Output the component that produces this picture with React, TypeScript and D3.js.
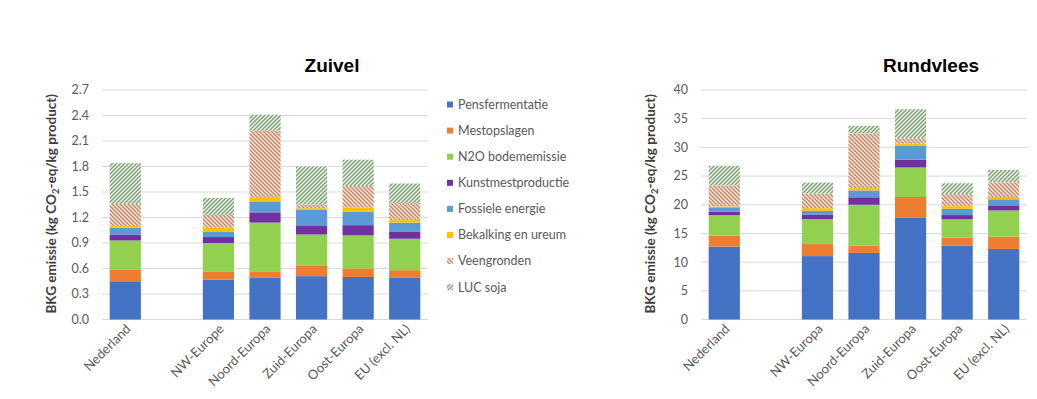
import React from "react";
import * as d3 from "d3";

const seriesNames = [
  "Pensfermentatie",
  "Mestopslagen",
  "N2O bodememissie",
  "Kunstmestproductie",
  "Fossiele energie",
  "Bekalking en ureum",
  "Veengronden",
  "LUC soja",
];
const seriesFills = [
  "#4472C4",
  "#ED7D31",
  "#92D050",
  "#7030A0",
  "#5B9BD5",
  "#FFC000",
  "url(#veen)",
  "url(#luc)",
];

const zuivelCategories = ["Nederland", "", "NW-Europe", "Noord-Europa", "Zuid-Europa", "Oost-Europa", "EU (excl. NL)"];
const rundCategories = ["Nederland", "", "NW-Europa", "Noord-Europa", "Zuid-Europa", "Oost-Europa", "EU (excl. NL)"];

// Zuivel (kg CO2-eq / kg product)
const zuivelPens = [0.45, 0, 0.47, 0.49, 0.51, 0.5, 0.49];
const zuivelMest = [0.14, 0, 0.09, 0.07, 0.12, 0.1, 0.09];
const zuivelN2O = [0.34, 0, 0.34, 0.58, 0.37, 0.39, 0.37];
const zuivelKunst = [0.07, 0, 0.07, 0.12, 0.1, 0.12, 0.08];
const zuivelFoss = [0.08, 0, 0.06, 0.13, 0.19, 0.16, 0.11];
const zuivelBek = [0.02, 0, 0.05, 0.05, 0.02, 0.05, 0.03];
const zuivelVeen = [0.26, 0, 0.15, 0.78, 0.04, 0.25, 0.2];
const zuivelLuc = [0.48, 0, 0.2, 0.19, 0.45, 0.31, 0.23];

// Rundvlees
const rundPens = [12.7, 0, 11.05, 11.6, 17.8, 12.85, 12.3];
const rundMest = [1.9, 0, 2.1, 1.3, 3.55, 1.45, 2.15];
const rundN2O = [3.6, 0, 4.35, 7.1, 5.15, 3.15, 4.55];
const rundKunst = [0.6, 0, 0.8, 1.3, 1.35, 0.75, 0.9];
const rundFoss = [0.75, 0, 0.65, 1.2, 2.4, 1.1, 1.05];
const rundBek = [0.15, 0, 0.45, 0.4, 0.4, 0.45, 0.4];
const rundVeen = [3.7, 0, 2.55, 9.55, 0.95, 2.1, 2.55];
const rundLuc = [3.4, 0, 1.9, 1.3, 5.05, 1.9, 2.2];

const zuivelTicks = [0, 0.3, 0.6, 0.9, 1.2, 1.5, 1.8, 2.1, 2.4, 2.7];
const rundTicks = [0, 5, 10, 15, 20, 25, 30, 35, 40];

const font = "Lato, 'Open Sans', sans-serif";
const gray = "#595959";

type ChartProps = {
  left: number;
  title: string;
  categories: string[];
  series: number[][];
  ticks: number[];
  fmt: (v: number) => string;
};

function Chart({ left, title, categories, series, ticks, fmt }: ChartProps) {
  const plotW = 326;
  const top = 90;
  const bottom = 319.5;
  const x = d3
    .scaleBand<number>()
    .domain(categories.map((_, i) => i))
    .range([left, left + plotW])
    .paddingInner(0.33)
    .paddingOuter(0.165);
  const y = d3.scaleLinear().domain([0, ticks[ticks.length - 1]]).range([bottom, top]);

  const rows = categories.map((c, i) => {
    const r: Record<string, number> = { idx: i };
    seriesNames.forEach((s, k) => (r[s] = series[k][i]));
    return r;
  });
  const stacked = d3.stack<Record<string, number>>().keys(seriesNames)(rows);

  return (
    <g>
      <text
        x={left + 230}
        y={71.5}
        textAnchor="middle"
        fontFamily="'Liberation Sans', Arial, sans-serif"
        fontWeight="bold"
        fontSize={19}
        fill="#000"
      >
        {title}
      </text>
      {ticks.map((t) => (
        <g key={t}>
          <line x1={left} x2={left + plotW} y1={y(t)} y2={y(t)} stroke="#D9D9D9" strokeWidth={1} />
          <text x={left - 13} y={y(t)} dy="0.35em" textAnchor="end" fontFamily={font} fontSize={12.5} fill={gray}>
            {fmt(t)}
          </text>
        </g>
      ))}
      <text
        transform={`translate(${left - 46},${(top + bottom) / 2 - 1}) rotate(-90)`}
        textAnchor="middle"
        fontFamily={font}
        fontWeight="bold"
        fontSize={13.5}
        fill="#404040"
      >
        BKG emissie (kg CO
        <tspan baselineShift="-25%" fontSize={9.5}>
          2
        </tspan>
        -eq/kg product)
      </text>
      {stacked.map((layer, k) => (
        <g key={layer.key} fill={seriesFills[k]}>
          {layer.map((d, i) =>
            d[1] - d[0] > 0 ? (
              <rect key={i} x={x(i)} width={x.bandwidth()} y={y(d[1])} height={y(d[0]) - y(d[1])} />
            ) : null
          )}
        </g>
      ))}
      {categories.map((c, i) => (
        <text
          key={i}
          transform={`translate(${(x(i) as number) + x.bandwidth() / 2 + 3},${bottom + 7}) rotate(-45)`}
          textAnchor="end"
          dy="0.35em"
          fontFamily={font}
          fontSize={13}
          fill={gray}
        >
          {c}
        </text>
      ))}
    </g>
  );
}

function Legend({ x0, y0 }: { x0: number; y0: number }) {
  return (
    <g>
      {seriesNames.map((s, k) => (
        <g key={s} transform={`translate(${x0},${y0 + k * 26.1})`}>
          <rect x={0} y={-3} width={6} height={6} fill={seriesFills[k]} />
          <text x={11} y={0} dy="0.35em" fontFamily={font} fontSize={12.5} fill={gray}>
            {s}
          </text>
        </g>
      ))}
    </g>
  );
}

export default function App() {
  const zuivelSeries = [zuivelPens, zuivelMest, zuivelN2O, zuivelKunst, zuivelFoss, zuivelBek, zuivelVeen, zuivelLuc];
  const rundSeries = [rundPens, rundMest, rundN2O, rundKunst, rundFoss, rundBek, rundVeen, rundLuc];
  return (
    <svg width={1037} height={399} style={{ position: "absolute", left: 0, top: 0, background: "#fff" }}>
      <defs>
        <pattern id="veen" patternUnits="userSpaceOnUse" width={4} height={4}>
          <rect width={4} height={4} fill="#F7E9E0" />
          <path d="M-1,-1 L5,5 M-1,3 L1,5 M3,-1 L5,1" stroke="#C98563" strokeWidth={1.4} />
        </pattern>
        <pattern id="luc" patternUnits="userSpaceOnUse" width={4} height={4}>
          <rect width={4} height={4} fill="#EEF3EC" />
          <path d="M-1,5 L5,-1 M-1,1 L1,-1 M3,5 L5,3" stroke="#7D9F74" strokeWidth={1.4} />
        </pattern>
      </defs>
      <Chart
        left={102}
        title="Zuivel"
        categories={zuivelCategories}
        series={zuivelSeries}
        ticks={zuivelTicks}
        fmt={d3.format(".1f")}
      />
      <Legend x0={447} y0={104.5} />
      <Chart
        left={701}
        title="Rundvlees"
        categories={rundCategories}
        series={rundSeries}
        ticks={rundTicks}
        fmt={d3.format("d")}
      />
    </svg>
  );
}
